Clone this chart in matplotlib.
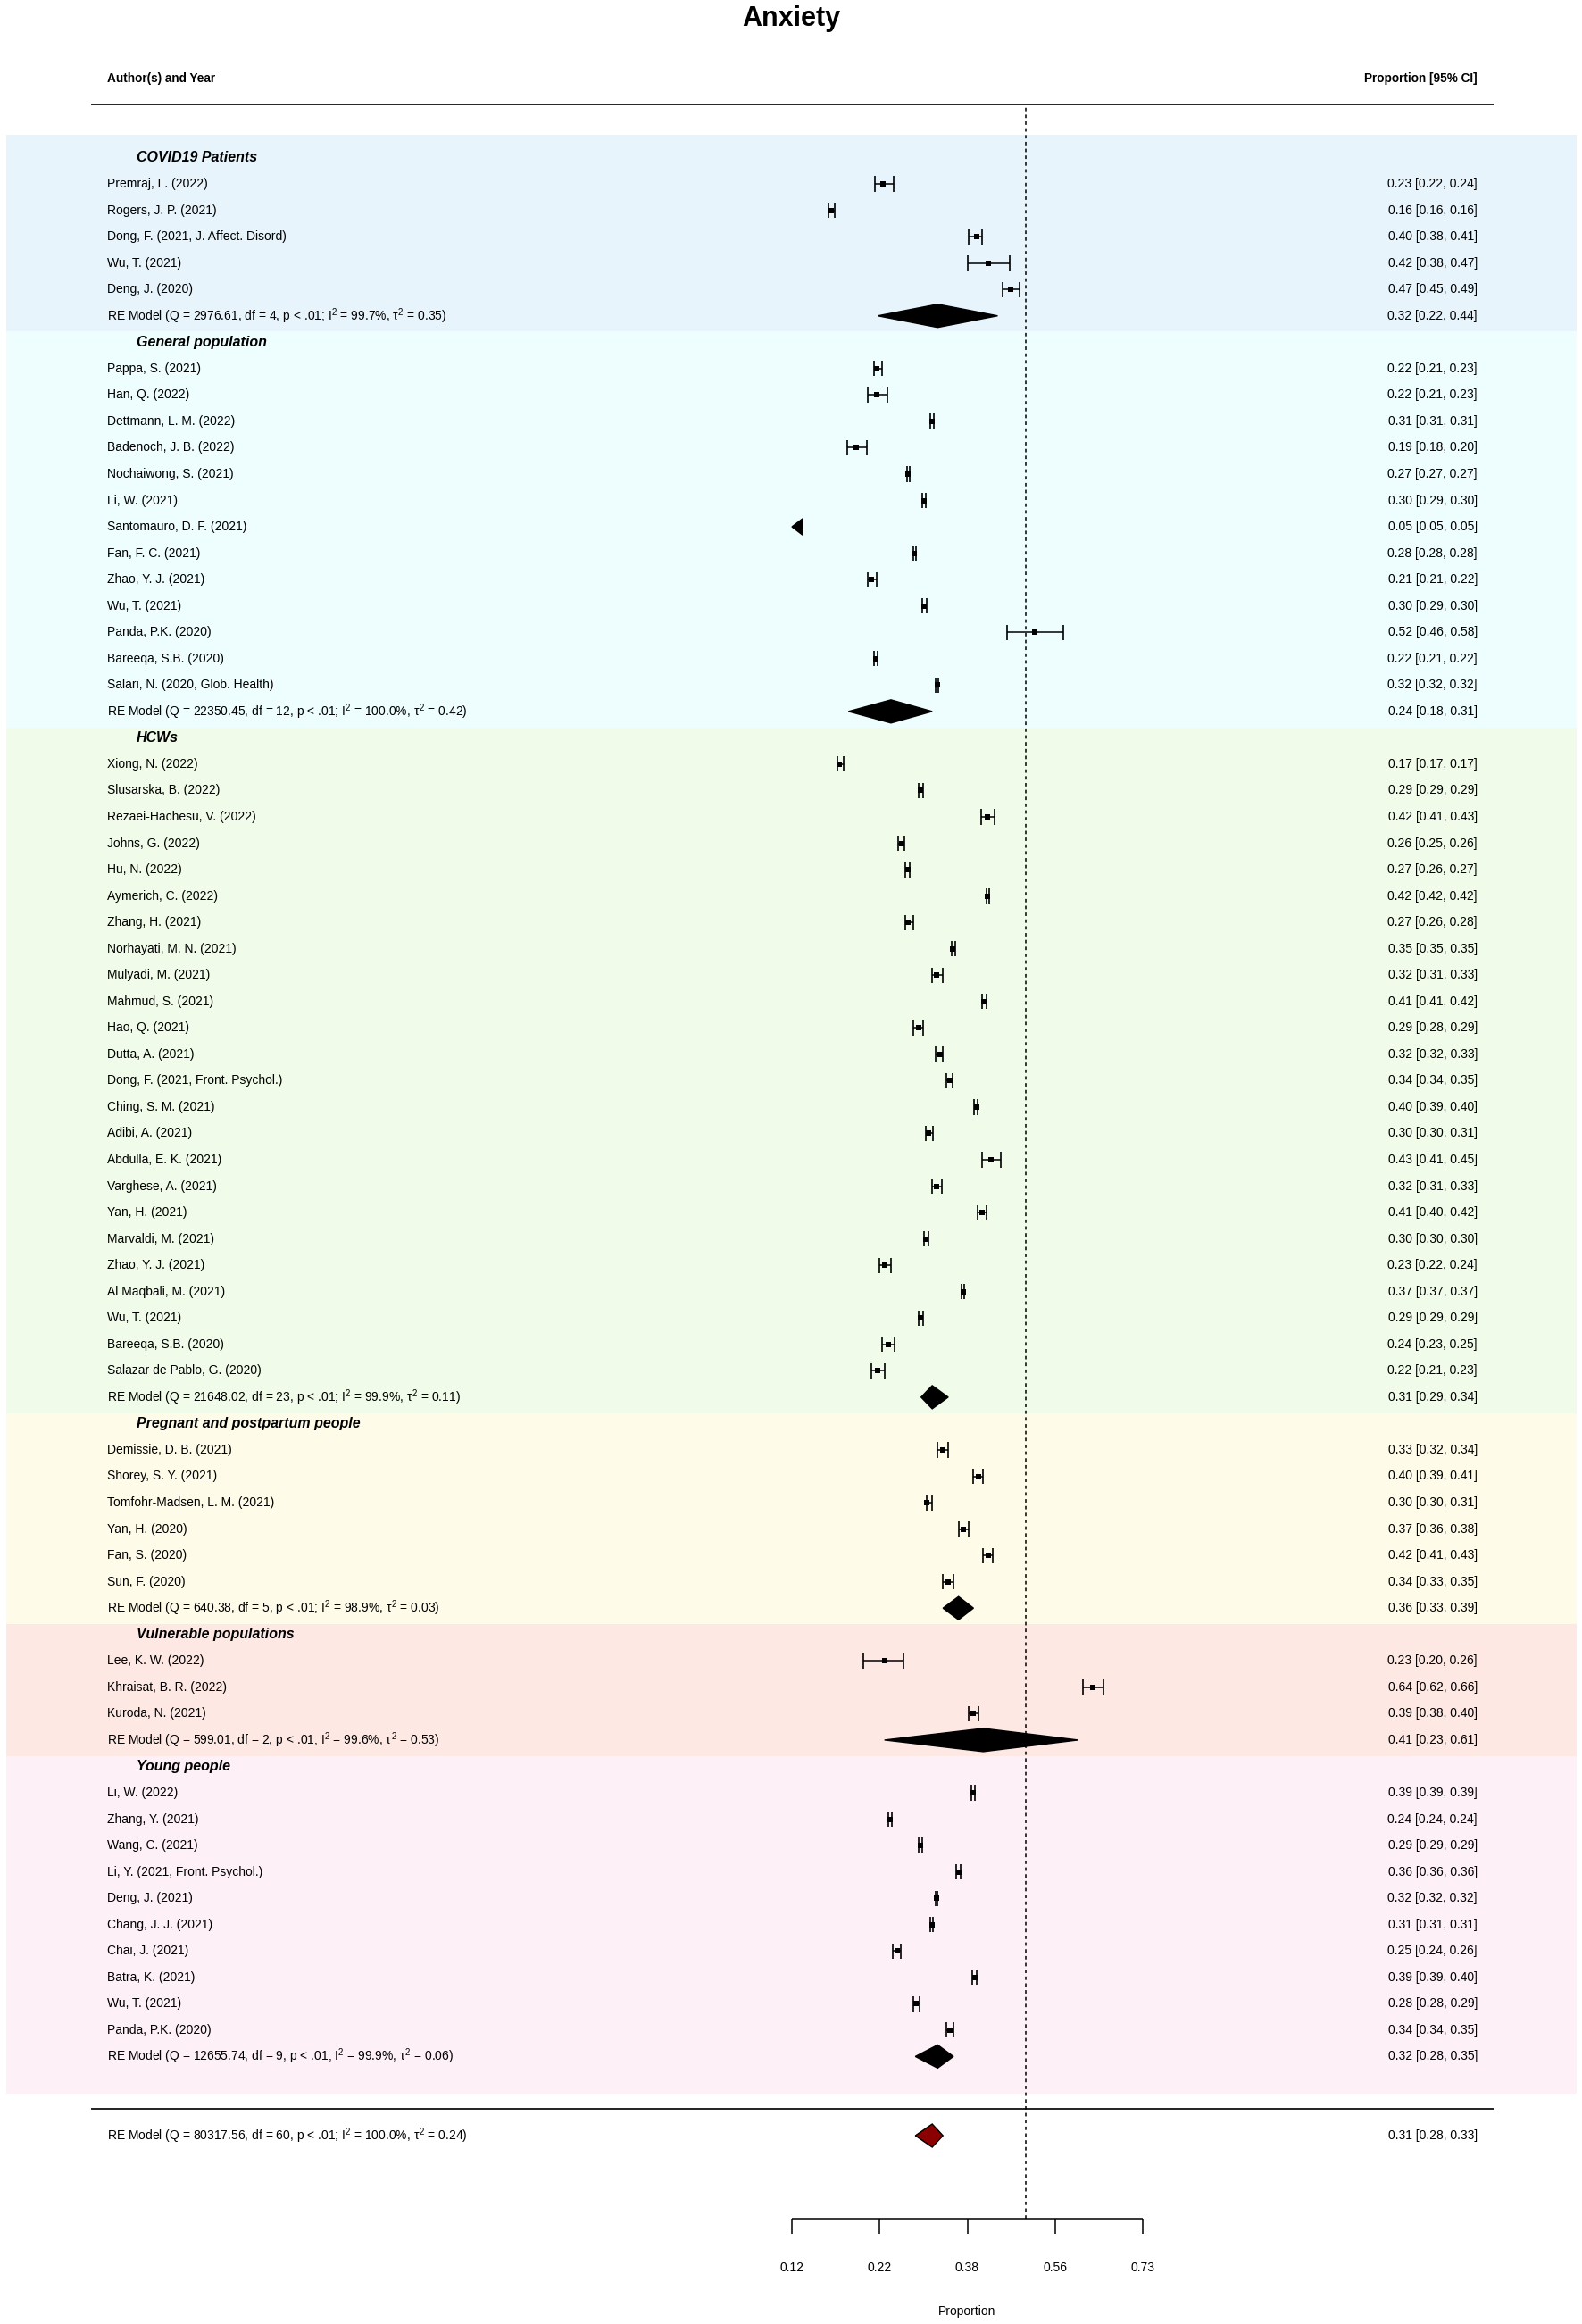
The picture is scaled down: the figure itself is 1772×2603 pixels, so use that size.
import numpy as np
import matplotlib.pyplot as plt
from matplotlib.patches import Polygon
from matplotlib.transforms import blended_transform_factory

plt.rcParams['font.family'] = ['Liberation Sans', 'DejaVu Sans']
plt.rcParams['mathtext.fontset'] = 'custom'
plt.rcParams['mathtext.rm'] = 'Liberation Sans'
plt.rcParams['mathtext.it'] = 'Liberation Sans'

group_names = ["COVID19 Patients", "General population", "HCWs",
               "Pregnant and postpartum people", "Vulnerable populations", "Young people"]

covid_study = ["Premraj, L. (2022)", "Rogers, J. P. (2021)", "Dong, F. (2021, J. Affect. Disord)",
               "Wu, T. (2021)", "Deng, J. (2020)"]
covid_est = [0.228, 0.159, 0.396, 0.421, 0.467]
covid_lo = [0.216, 0.156, 0.381, 0.378, 0.451]
covid_hi = [0.244, 0.163, 0.408, 0.466, 0.486]

general_study = ["Pappa, S. (2021)", "Han, Q. (2022)", "Dettmann, L. M. (2022)", "Badenoch, J. B. (2022)",
                 "Nochaiwong, S. (2021)", "Li, W. (2021)", "Santomauro, D. F. (2021)", "Fan, F. C. (2021)",
                 "Zhao, Y. J. (2021)", "Wu, T. (2021)", "Panda, P.K. (2020)", "Bareeqa, S.B. (2020)",
                 "Salari, N. (2020, Glob. Health)"]
general_est = [0.218, 0.218, 0.309, 0.190, 0.268, 0.296, 0.050, 0.278, 0.211, 0.296, 0.520, 0.217, 0.319]
general_lo = [0.214, 0.206, 0.306, 0.178, 0.266, 0.292, 0.049, 0.276, 0.206, 0.292, 0.460, 0.214, 0.316]
general_hi = [0.226, 0.234, 0.313, 0.204, 0.271, 0.299, 0.051, 0.281, 0.218, 0.300, 0.580, 0.220, 0.322]

hcw_study = ["Xiong, N. (2022)", "Slusarska, B. (2022)", "Rezaei-Hachesu, V. (2022)", "Johns, G. (2022)",
             "Hu, N. (2022)", "Aymerich, C. (2022)", "Zhang, H. (2021)", "Norhayati, M. N. (2021)",
             "Mulyadi, M. (2021)", "Mahmud, S. (2021)", "Hao, Q. (2021)", "Dutta, A. (2021)",
             "Dong, F. (2021, Front. Psychol.)", "Ching, S. M. (2021)", "Adibi, A. (2021)",
             "Abdulla, E. K. (2021)", "Varghese, A. (2021)", "Yan, H. (2021)", "Marvaldi, M. (2021)",
             "Zhao, Y. J. (2021)", "Al Maqbali, M. (2021)", "Wu, T. (2021)", "Bareeqa, S.B. (2020)",
             "Salazar de Pablo, G. (2020)"]
hcw_est = [0.169, 0.289, 0.418, 0.257, 0.267, 0.419, 0.268, 0.349, 0.318, 0.412, 0.286, 0.324,
           0.343, 0.396, 0.304, 0.426, 0.318, 0.408, 0.298, 0.231, 0.369, 0.289, 0.236, 0.220]
hcw_lo = [0.166, 0.286, 0.406, 0.252, 0.263, 0.416, 0.263, 0.346, 0.309, 0.408, 0.276, 0.317,
          0.336, 0.391, 0.298, 0.408, 0.310, 0.399, 0.296, 0.223, 0.366, 0.286, 0.227, 0.211]
hcw_hi = [0.174, 0.294, 0.433, 0.262, 0.271, 0.422, 0.276, 0.353, 0.329, 0.417, 0.294, 0.330,
          0.349, 0.399, 0.311, 0.446, 0.328, 0.417, 0.303, 0.240, 0.372, 0.294, 0.246, 0.230]

preg_study = ["Demissie, D. B. (2021)", "Shorey, S. Y. (2021)", "Tomfohr-Madsen, L. M. (2021)",
              "Yan, H. (2020)", "Fan, S. (2020)", "Sun, F. (2020)"]
preg_est = [0.33, 0.40, 0.30, 0.37, 0.42, 0.34]
preg_lo = [0.32, 0.39, 0.30, 0.36, 0.41, 0.33]
preg_hi = [0.34, 0.41, 0.31, 0.38, 0.43, 0.35]

vuln_study = ["Lee, K. W. (2022)", "Khraisat, B. R. (2022)", "Kuroda, N. (2021)"]
vuln_est = [0.23, 0.64, 0.39]
vuln_lo = [0.20, 0.62, 0.38]
vuln_hi = [0.26, 0.66, 0.40]

young_study = ["Li, W. (2022)", "Zhang, Y. (2021)", "Wang, C. (2021)", "Li, Y. (2021, Front. Psychol.)",
               "Deng, J. (2021)", "Chang, J. J. (2021)", "Chai, J. (2021)", "Batra, K. (2021)",
               "Wu, T. (2021)", "Panda, P.K. (2020)"]
young_est = [0.389, 0.239, 0.289, 0.360, 0.318, 0.309, 0.250, 0.392, 0.281, 0.344]
young_lo = [0.386, 0.236, 0.286, 0.356, 0.317, 0.306, 0.243, 0.388, 0.276, 0.337]
young_hi = [0.392, 0.242, 0.292, 0.364, 0.319, 0.312, 0.256, 0.397, 0.288, 0.350]

# subgroup random-effects summaries
re_q = [2976.61, 22350.45, 21648.02, 640.38, 599.01, 12655.74]
re_df = [4, 12, 23, 5, 2, 9]
re_i2 = [99.7, 100.0, 99.9, 98.9, 99.6, 99.9]
re_tau2 = [0.35, 0.42, 0.11, 0.03, 0.53, 0.06]
re_est = [0.32, 0.24, 0.31, 0.36, 0.41, 0.32]
re_lo = [0.22, 0.18, 0.29, 0.33, 0.23, 0.28]
re_hi = [0.44, 0.31, 0.34, 0.39, 0.61, 0.35]

# overall model
all_q, all_df, all_i2, all_tau2 = 80317.56, 60, 100.0, 0.24
all_est, all_lo, all_hi = 0.31, 0.28, 0.33

tick_logit = [-2, -1.25, -0.5, 0.25, 1.0]

band_colors = ["#e8f4fc", "#eefefe", "#f0fce9", "#fefce9", "#fde8e4", "#fdf0f6"]

studies = [covid_study, general_study, hcw_study, preg_study, vuln_study, young_study]
ests = [covid_est, general_est, hcw_est, preg_est, vuln_est, young_est]
los = [covid_lo, general_lo, hcw_lo, preg_lo, vuln_lo, young_lo]
his = [covid_hi, general_hi, hcw_hi, preg_hi, vuln_hi, young_hi]


def logit(p):
    p = np.asarray(p, dtype=float)
    return np.log(p / (1 - p))


def re_label(q, df, i2, tau2):
    return (f"RE Model (Q = {q:.2f}, df = {df}, p < .01; I$^{{2}}$ = {i2:.1f}%, "
            f"$\\tau^{{2}}$ = {tau2:.2f})")


# ---------------- layout in pixels -> data units ----------------
W, H = 1772, 2603
ALIM = (-2.0, 1.0)
AX_L_PX, AX_R_PX = 887, 1280
px_unit = (AX_R_PX - AX_L_PX) / (ALIM[1] - ALIM[0])
ROW_PX = 29.54
OVERALL_PX = 2392

fig = plt.figure(figsize=(W / 100, H / 100), dpi=100)
ax = fig.add_axes([0, 0, 1, 1])
xl = ALIM[0] - AX_L_PX / px_unit
ax.set_xlim(xl, xl + W / px_unit)
ax.set_ylim(-(H - OVERALL_PX) / ROW_PX, OVERALL_PX / ROW_PX)
ax.axis('off')
tr = blended_transform_factory(ax.transAxes, ax.transData)

X_AUTH = 120 / W
X_GROUP = 153 / W
X_RIGHT = 1655 / W
TXT = 10
TICK_H = 0.29
DIA_H = 0.44


def diamond(e, l, h, y, fc, ec):
    pts = [(logit(l), y), (logit(e), y + DIA_H), (logit(h), y), (logit(e), y - DIA_H)]
    ax.add_patch(Polygon(pts, closed=True, facecolor=fc, edgecolor=ec, lw=1, zorder=4))


y = 75
n_groups = len(group_names)
for g in range(n_groups):
    top = y + (0.85 if g == 0 else 0.4)
    ax.text(X_GROUP, y, group_names[g], transform=tr, fontsize=11.5, fontweight='bold',
            fontstyle='italic', va='center', ha='left')
    y -= 1
    for name, e, l, h in zip(studies[g], ests[g], los[g], his[g]):
        ax.text(X_AUTH, y, name, transform=tr, fontsize=TXT, va='center', ha='left')
        ax.text(X_RIGHT, y, f"{e:.2f} [{l:.2f}, {h:.2f}]", transform=tr, fontsize=TXT,
                va='center', ha='right')
        le, ll, lh = float(logit(e)), float(logit(l)), float(logit(h))
        x0 = max(ll, ALIM[0])
        x1 = min(lh, ALIM[1])
        if x1 > x0:
            ax.hlines(y, x0, x1, color='black', lw=1.1, zorder=3)
        if ll >= ALIM[0]:
            ax.vlines(ll, y - TICK_H, y + TICK_H, color='black', lw=1.2, zorder=3)
        else:
            aw = 12 / px_unit
            ax.add_patch(Polygon([(ALIM[0], y), (ALIM[0] + aw, y + 0.31), (ALIM[0] + aw, y - 0.31)],
                                 closed=True, facecolor='black', edgecolor='black', zorder=3))
        if ALIM[0] <= lh <= ALIM[1]:
            ax.vlines(lh, y - TICK_H, y + TICK_H, color='black', lw=1.2, zorder=3)
        if ALIM[0] <= le <= ALIM[1]:
            ax.plot(le, y, 's', ms=4.2, mew=0, color='black', zorder=4)
        y -= 1
    ax.text(X_AUTH, y, re_label(re_q[g], re_df[g], re_i2[g], re_tau2[g]), transform=tr,
            fontsize=TXT, va='center', ha='left')
    ax.text(X_RIGHT, y, f"{re_est[g]:.2f} [{re_lo[g]:.2f}, {re_hi[g]:.2f}]", transform=tr,
            fontsize=TXT, va='center', ha='right')
    diamond(re_est[g], re_lo[g], re_hi[g], y, 'black', 'black')
    bottom = y - (1.4 if g == n_groups - 1 else 0.6)
    ax.axhspan(bottom, top, xmin=7 / W, xmax=1766 / W, facecolor=band_colors[g], lw=0, zorder=0)
    y -= 1

# overall
ax.text(X_AUTH, 0, re_label(all_q, all_df, all_i2, all_tau2), transform=tr,
        fontsize=TXT, va='center', ha='left')
ax.text(X_RIGHT, 0, f"{all_est:.2f} [{all_lo:.2f}, {all_hi:.2f}]", transform=tr,
        fontsize=TXT, va='center', ha='right')
diamond(all_est, all_lo, all_hi, 0, '#8b0000', 'black')

# header, separators, reference line
ax.text(X_AUTH, 78, "Author(s) and Year", transform=tr, fontsize=9.8, fontweight='bold',
        va='center', ha='left')
ax.text(X_RIGHT, 78, "Proportion [95% CI]", transform=tr, fontsize=9.8, fontweight='bold',
        va='center', ha='right')
ax.axhline(77, xmin=103 / W, xmax=1672 / W, color='#222222', lw=1.4)
ax.axhline(1, xmin=103 / W, xmax=1672 / W, color='#222222', lw=1.4)
AXIS_Y = -3.15
ax.vlines(0, AXIS_Y, 77, color='black', lw=1.1, linestyles=(0, (2.5, 2.5)), zorder=2)

# x axis
ax.hlines(AXIS_Y, ALIM[0], ALIM[1], color='black', lw=1.1)
ax.vlines(tick_logit, AXIS_Y - 0.57, AXIS_Y, color='black', lw=1.1)
for t in tick_logit:
    ax.text(t, -5.0, f"{1 / (1 + np.exp(-t)):.2f}", fontsize=TXT, ha='center', va='center')
ax.text(np.mean(ALIM), -6.67, "Proportion", fontsize=TXT, ha='center', va='center')

ax.text(0.5, 80.0, "Anxiety", transform=tr, fontsize=22, fontweight='bold',
        ha='center', va='baseline')

fig.savefig("out.png", dpi=100)
